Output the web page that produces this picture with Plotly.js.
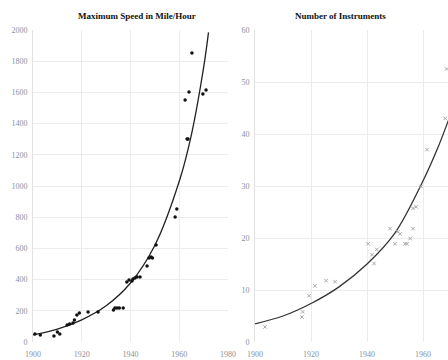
<!DOCTYPE html>
<html><head><meta charset="utf-8">
<script src="https://cdn.plot.ly/plotly-3.0.1.min.js"></script>
<style>html,body{margin:0;padding:0;overflow:hidden;background:#fff}</style>
</head><body><div id="chart" style="width:448px;height:360px"></div>
<script>
// Left: Maximum speed (mile/hour)
const speedYears = [1900.8,1903,1908.6,1910,1911,1914,1915,1916.4,1917,1918,1919,1922.6,1926.7,1933,1933.6,1934.5,1935.4,1937,1938.5,1939.4,1940.6,1941,1941.8,1942.7,1943.9,1946.8,1947.6,1948.4,1949,1950.5,1958.3,1959,1962.4,1963.2,1963.6,1964,1965.2,1969.7,1971];
const speedValues = [51,45,38,64,51,109,115,122,141,173,186,192,192,205,218,218,218,218,385,397,391,404,410,417,417,487,538,545,538,622,801,853,1551,1301,1301,1603,1852,1590,1616];
const speedTrendYears = [1900,1910,1920,1930,1940,1950,1960,1965,1970,1972];
const speedTrendValues = [45,82,142,232,378,620,1030,1330,1760,1985];

// Right: Number of instruments
const instYears = [1903.6,1916.8,1917,1919.3,1921.4,1925.4,1928.6,1940.4,1941.8,1942.5,1943.5,1948.2,1950,1951,1951.8,1953.6,1954.3,1955.4,1956.4,1956.4,1957.5,1959.3,1961.4,1967.9,1968.4];
const instValues = [2.9,4.8,5.8,8.9,10.8,11.8,11.6,18.9,16.8,15.1,17.8,21.8,18.9,21.2,20.8,18.9,18.9,19.9,21.8,25.7,26,29.9,37,43,52.5];
const instTrendYears = [1900,1910,1920,1930,1940,1950,1960,1965,1970];
const instTrendValues = [3.5,5.0,7.4,10.6,15,21,31,37,44];

const tickFont = {family:'Liberation Serif', size:8, color:'#8a8f9c'};
const grid = '#ececec';

const data = [
  {x:speedTrendYears, y:speedTrendValues, type:'scatter', mode:'lines', line:{color:'#222', width:1.3, shape:'spline'}, xaxis:'x', yaxis:'y', hoverinfo:'skip'},
  {x:speedYears, y:speedValues, type:'scatter', mode:'markers', marker:{color:'#111', size:3.5}, xaxis:'x', yaxis:'y'},
  {x:instTrendYears, y:instTrendValues, type:'scatter', mode:'lines', line:{color:'#333', width:1.3, shape:'spline'}, xaxis:'x2', yaxis:'y2', hoverinfo:'skip'},
  {x:instYears, y:instValues, type:'scatter', mode:'markers', marker:{color:'#a8a8a8', size:3.5, symbol:'x-thin', line:{color:'#a8a8a8', width:1}}, xaxis:'x2', yaxis:'y2'}
];

const layout = {
  width:448, height:360,
  margin:{l:0, r:0, t:30, b:18},
  showlegend:false,
  paper_bgcolor:'#fff', plot_bgcolor:'#fff',
  xaxis:{domain:[33/448, 228/448], range:[1900,1980], dtick:20, tick0:1900, showgrid:true, gridcolor:grid, zeroline:false, showline:false, tickfont:tickFont, ticks:'', ticklabelstandoff:6, fixedrange:true},
  yaxis:{domain:[0,1], range:[0,2000], dtick:200, showgrid:true, gridcolor:grid, zeroline:false, showline:true, linecolor:'#e2e2e2', tickfont:tickFont, ticks:'', ticklabelstandoff:3, anchor:'x'},
  xaxis2:{domain:[255/448, 1], range:[1900,1968.9], dtick:20, tick0:1900, showgrid:true, gridcolor:grid, zeroline:false, showline:false, tickfont:tickFont, ticks:'', ticklabelstandoff:6, anchor:'y2'},
  yaxis2:{domain:[0,1], range:[0,60], dtick:10, showgrid:true, gridcolor:grid, zeroline:false, showline:true, linecolor:'#e2e2e2', tickfont:tickFont, ticks:'', ticklabelstandoff:3, anchor:'x2'},
  annotations:[
    {text:'<b>Maximum Speed in Mile/Hour</b>', xref:'paper', yref:'paper', x:137/448, y:1+(30-16)/312, xanchor:'center', yanchor:'middle', showarrow:false, font:{family:'Liberation Serif', size:9, color:'#111'}},
    {text:'<b>Number of Instruments</b>', xref:'paper', yref:'paper', x:340/448, y:1+(30-16)/312, xanchor:'center', yanchor:'middle', showarrow:false, font:{family:'Liberation Serif', size:9, color:'#111'}}
  ]
};

Plotly.newPlot('chart', data, layout, {displayModeBar:false, staticPlot:true});
</script>
</body></html>
